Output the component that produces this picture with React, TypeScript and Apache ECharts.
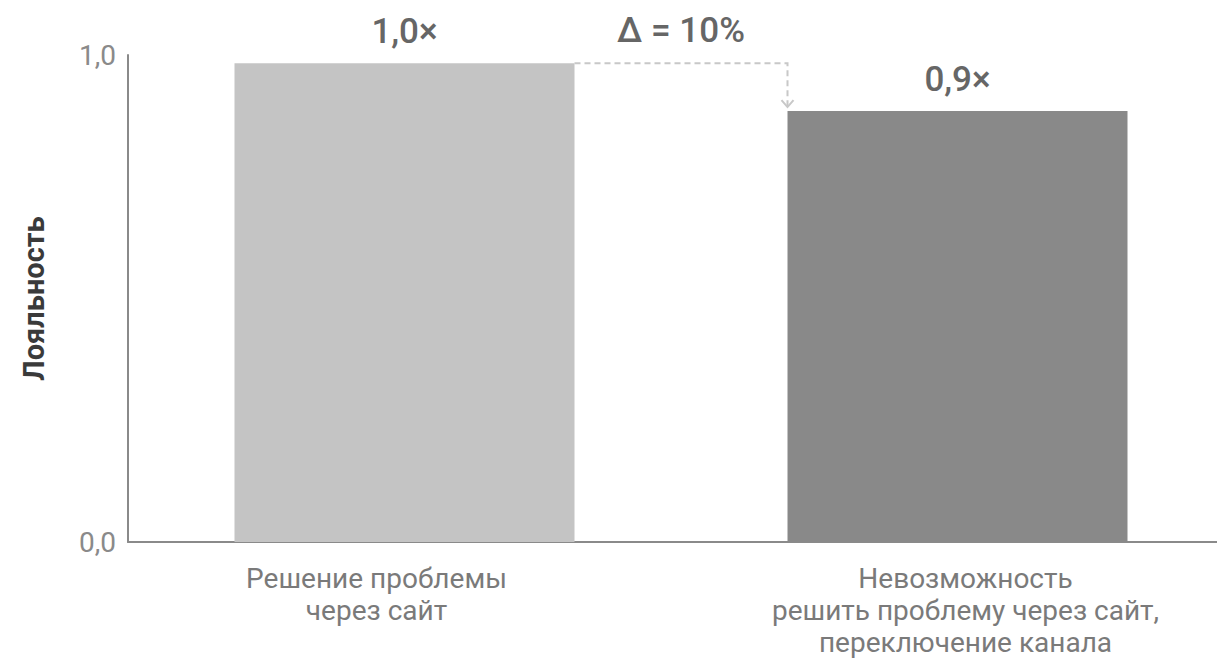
import React, { useEffect, useRef } from "react";
import * as echarts from "echarts";

const categories = [
  "Решение проблемы\nчерез сайт",
  "Невозможность\nрешить проблему через сайт,\nпереключение канала",
];
const values = [1.0, 0.9];
const valueLabels = ["1,0×", "0,9×"];
const barColors = ["#c4c4c4", "#898989"];
const yTickLabels = ["0,0", "1,0"];
const AXIS_MAX = 1.017;
const deltaLabel = "Δ = 10%";
const yAxisName = "Лояльность";

const FONT = "Roboto, 'DejaVu Sans', sans-serif";

export default function App() {
  const ref = useRef<HTMLDivElement>(null);

  useEffect(() => {
    if (!ref.current) return;
    const chart = echarts.init(ref.current, undefined, { renderer: "svg" });
    const BAR_W = 340;
    chart.setOption({
      animation: false,
      backgroundColor: "#ffffff",
      grid: { left: 128, right: 0, top: 55, bottom: 117, containLabel: false },
      xAxis: {
        type: "category",
        data: [
          { value: categories[0], textStyle: { padding: [0, 56, 0, 0] } },
          { value: categories[1], textStyle: { padding: [0, 0, 0, 16] } },
        ],
        axisLine: { show: true, lineStyle: { color: "#8a8a8a", width: 2 } },
        axisTick: { show: false },
        axisLabel: {
          color: "#7a7a7a",
          fontFamily: FONT,
          fontSize: 28,
          lineHeight: 32,
          margin: 20,
          interval: 0,
        },
      },
      yAxis: {
        type: "value",
        min: 0,
        max: AXIS_MAX,
        splitLine: { show: false },
        axisLine: { show: true, lineStyle: { color: "#8a8a8a", width: 2 } },
        axisTick: { show: false },
        axisLabel: {
          customValues: [0, AXIS_MAX],
          formatter: (v: number) => (v === 0 ? yTickLabels[0] : yTickLabels[1]),
          color: "#8a8a8a",
          fontFamily: FONT,
          fontSize: 28,
          margin: 12,
        },
        name: yAxisName,
        nameLocation: "middle",
        nameRotate: 90,
        nameGap: 80,
        nameTextStyle: {
          color: "#3a3a3a",
          fontFamily: FONT,
          fontSize: 29,
          fontWeight: "bold",
        },
      },
      series: [
        {
          type: "bar",
          barWidth: BAR_W,
          data: values.map((v, i) => ({
            value: v,
            itemStyle: { color: barColors[i] },
            label: {
              show: true,
              position: "top",
              distance: 14,
              formatter: valueLabels[i],
              color: "#666666",
              fontFamily: FONT,
              fontSize: 35,
              fontWeight: 500,
            },
          })),
        },
      ],
    });

    const p1 = chart.convertToPixel({ gridIndex: 0 }, [0, values[0]]) as number[];
    const p2 = chart.convertToPixel({ gridIndex: 0 }, [1, values[1]]) as number[];
    const x1 = p1[0] + BAR_W / 2;
    const x2 = p2[0] - BAR_W / 2;
    const yTop = p1[1];
    const yEnd = p2[1] - 4;
    chart.setOption({
      graphic: [
        {
          type: "polyline",
          shape: { points: [[x1, yTop], [x2, yTop], [x2, yEnd]] },
          style: { stroke: "#c8c8c8", lineWidth: 2, lineDash: [6, 4], fill: "none" },
          silent: true,
        },
        {
          type: "polyline",
          shape: { points: [[x2 - 6, yEnd - 7], [x2, yEnd], [x2 + 6, yEnd - 7]] },
          style: { stroke: "#c8c8c8", lineWidth: 2, fill: "none" },
          silent: true,
        },
        {
          type: "text",
          x: (x1 + x2) / 2,
          y: 30,
          style: {
            text: deltaLabel,
            fill: "#666666",
            font: `500 35px ${FONT}`,
            align: "center",
            verticalAlign: "middle",
          },
          silent: true,
        },
      ],
    });

    return () => chart.dispose();
  }, []);

  return (
    <div
      ref={ref}
      style={{ position: "fixed", left: 0, top: 0, width: 1234, height: 659 }}
    />
  );
}
